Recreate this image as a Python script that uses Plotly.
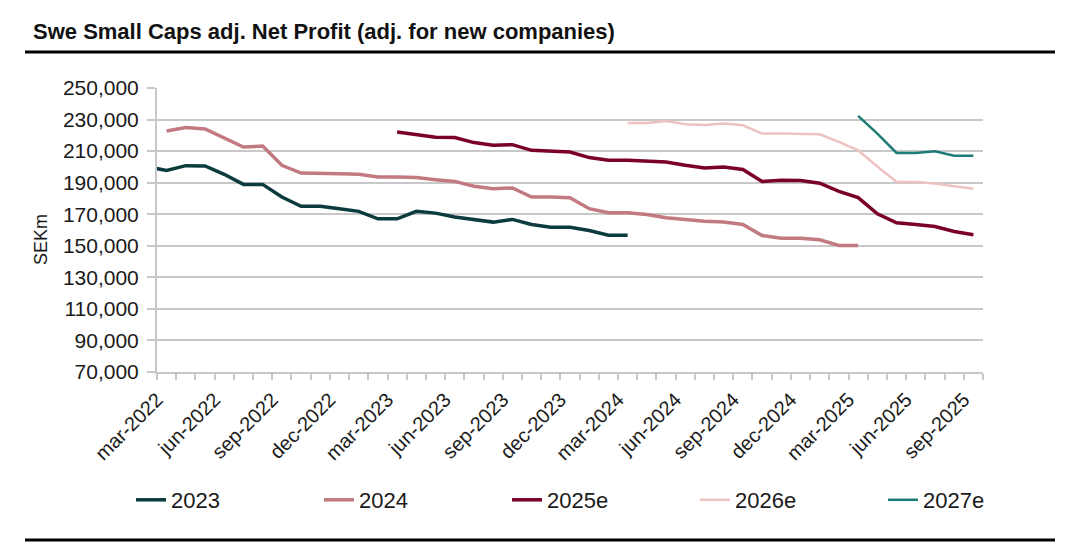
import pandas as pd
import plotly.graph_objects as go

# ---- data (SEKm) ----
first_month = "2022-03"            # first month on the axis
tick_labels = ["mar-2022", "jun-2022", "sep-2022", "dec-2022",
               "mar-2023", "jun-2023", "sep-2023", "dec-2023",
               "mar-2024", "jun-2024", "sep-2024", "dec-2024",
               "mar-2025", "jun-2025", "sep-2025"]

start_2023 = "2022-02"
vals_2023 = [200000, 197800, 200800, 200600, 195300, 188900, 188900, 180900,
             175000, 175000, 173500, 171800, 167100, 167100, 171800, 170700,
             168200, 166500, 165000, 166700, 163500, 161800, 161800, 159700,
             156700, 156700]

start_2024 = "2022-03"
vals_2024 = [222800, 224900, 224000, 218600, 212600, 213200, 201000, 196100,
             196100, 195700, 195300, 193600, 193600, 193200, 191900, 190800,
             187700, 186200, 186600, 180900, 180900, 180500, 173500, 171000,
             171000, 169800, 167800, 166500, 165600, 165000, 163500, 156500,
             154800, 154800, 153800, 150200, 150200]

start_2025e = "2023-03"
vals_2025e = [222100, 220500, 218800, 218600, 215400, 213700, 214100, 210500,
              210100, 209400, 205900, 204200, 204200, 203500, 203100, 201000,
              199300, 199900, 198400, 190800, 191500, 191300, 189700, 184500,
              180500, 170300, 164600, 163500, 162200, 159100, 157000]

start_2026e = "2024-03"
vals_2026e = [227800, 227800, 229100, 227000, 226600, 227500, 226400, 221100,
              221100, 221100, 220700, 215800, 210500, 200300, 190400, 190400,
              189400, 187700, 186200]

start_2027e = "2025-03"
vals_2027e = [232300, 221100, 208800, 208800, 209900, 207100, 207100]

series = [
    ("2023", start_2023, vals_2023, "#0C3B3E", 3.5),
    ("2024", start_2024, vals_2024, "#C27A80", 3.5),
    ("2025e", start_2025e, vals_2025e, "#7A0026", 3.5),
    ("2026e", start_2026e, vals_2026e, "#EEC2C0", 2.5),
    ("2027e", start_2027e, vals_2027e, "#1D7B78", 2.5),
]

# ---- layout geometry (pixels) ----
W, H = 1079, 556
L, R, T, B = 157, 983, 88, 372

def px_x(x):
    return (x - L) / (R - L)

def px_y(y):
    return (B - y) / (B - T)

base = pd.Period(first_month, freq="M")
n_months = 43

fig = go.Figure()
for name, start, vals, color, width in series:
    off = (pd.Period(start, freq="M") - base).n
    xs = [off + i + 0.5 for i in range(len(vals))]
    fig.add_trace(go.Scatter(x=xs, y=vals, mode="lines", name=name,
                             line=dict(color=color, width=width),
                             cliponaxis=True))

grid = "#C8C8C8"
font_fam = "Liberation Sans, Arial, sans-serif"

fig.update_layout(
    width=W, height=H,
    margin=dict(l=L, r=W - R, t=T, b=H - B),
    paper_bgcolor="white", plot_bgcolor="white",
    font=dict(family=font_fam, color="#1a1a1a", size=20),
    title=dict(text="<b>Swe Small Caps adj. Net Profit (adj. for new companies)</b>",
               x=33 / W, xanchor="left", xref="container",
               y=1 - 31 / H, yanchor="middle", yref="container",
               font=dict(size=22, color="#111111", family=font_fam)),
    showlegend=True,
    legend=dict(orientation="h", x=px_x(131), xanchor="left",
                y=px_y(500), yanchor="middle",
                entrywidth=143, entrywidthmode="pixels",
                font=dict(size=22, color="#1a1a1a"),
                traceorder="normal"),
)

fig.update_xaxes(
    range=[0, n_months],
    tickmode="array",
    tickvals=[3 * i for i in range(len(tick_labels))],
    ticktext=tick_labels,
    tickangle=-45,
    ticks="outside", ticklen=6, tickwidth=2, tickcolor=grid,
    minor=dict(dtick=1, tick0=0, ticks="outside", ticklen=6, tickwidth=2,
               tickcolor=grid, showgrid=False),
    showgrid=False, zeroline=False,
    showline=True, linecolor=grid, linewidth=2,
    tickfont=dict(size=20, color="#1a1a1a"),
)
fig.update_yaxes(
    range=[70000, 250000],
    tick0=70000, dtick=20000, tickformat=",d",
    showgrid=True, gridcolor=grid, gridwidth=2,
    ticks="outside", ticklen=8, tickwidth=2, tickcolor=grid,
    ticklabelstandoff=4,
    zeroline=False, showline=True, linecolor=grid, linewidth=2,
    tickfont=dict(size=21, color="#1a1a1a"),
)

# y-axis title
fig.add_annotation(text="SEKm", xref="paper", yref="paper",
                   x=px_x(41), y=px_y(240), xanchor="center", yanchor="middle",
                   textangle=-90, showarrow=False,
                   font=dict(size=18, color="#1a1a1a"))

# horizontal rules above and below the chart
for y in (52, 540):
    fig.add_shape(type="line", xref="paper", yref="paper",
                  x0=px_x(25), x1=px_x(1055), y0=px_y(y), y1=px_y(y),
                  line=dict(color="black", width=3))

fig.write_html("out.html", config={"displayModeBar": False},
               post_script="document.body.style.margin='0px';")
